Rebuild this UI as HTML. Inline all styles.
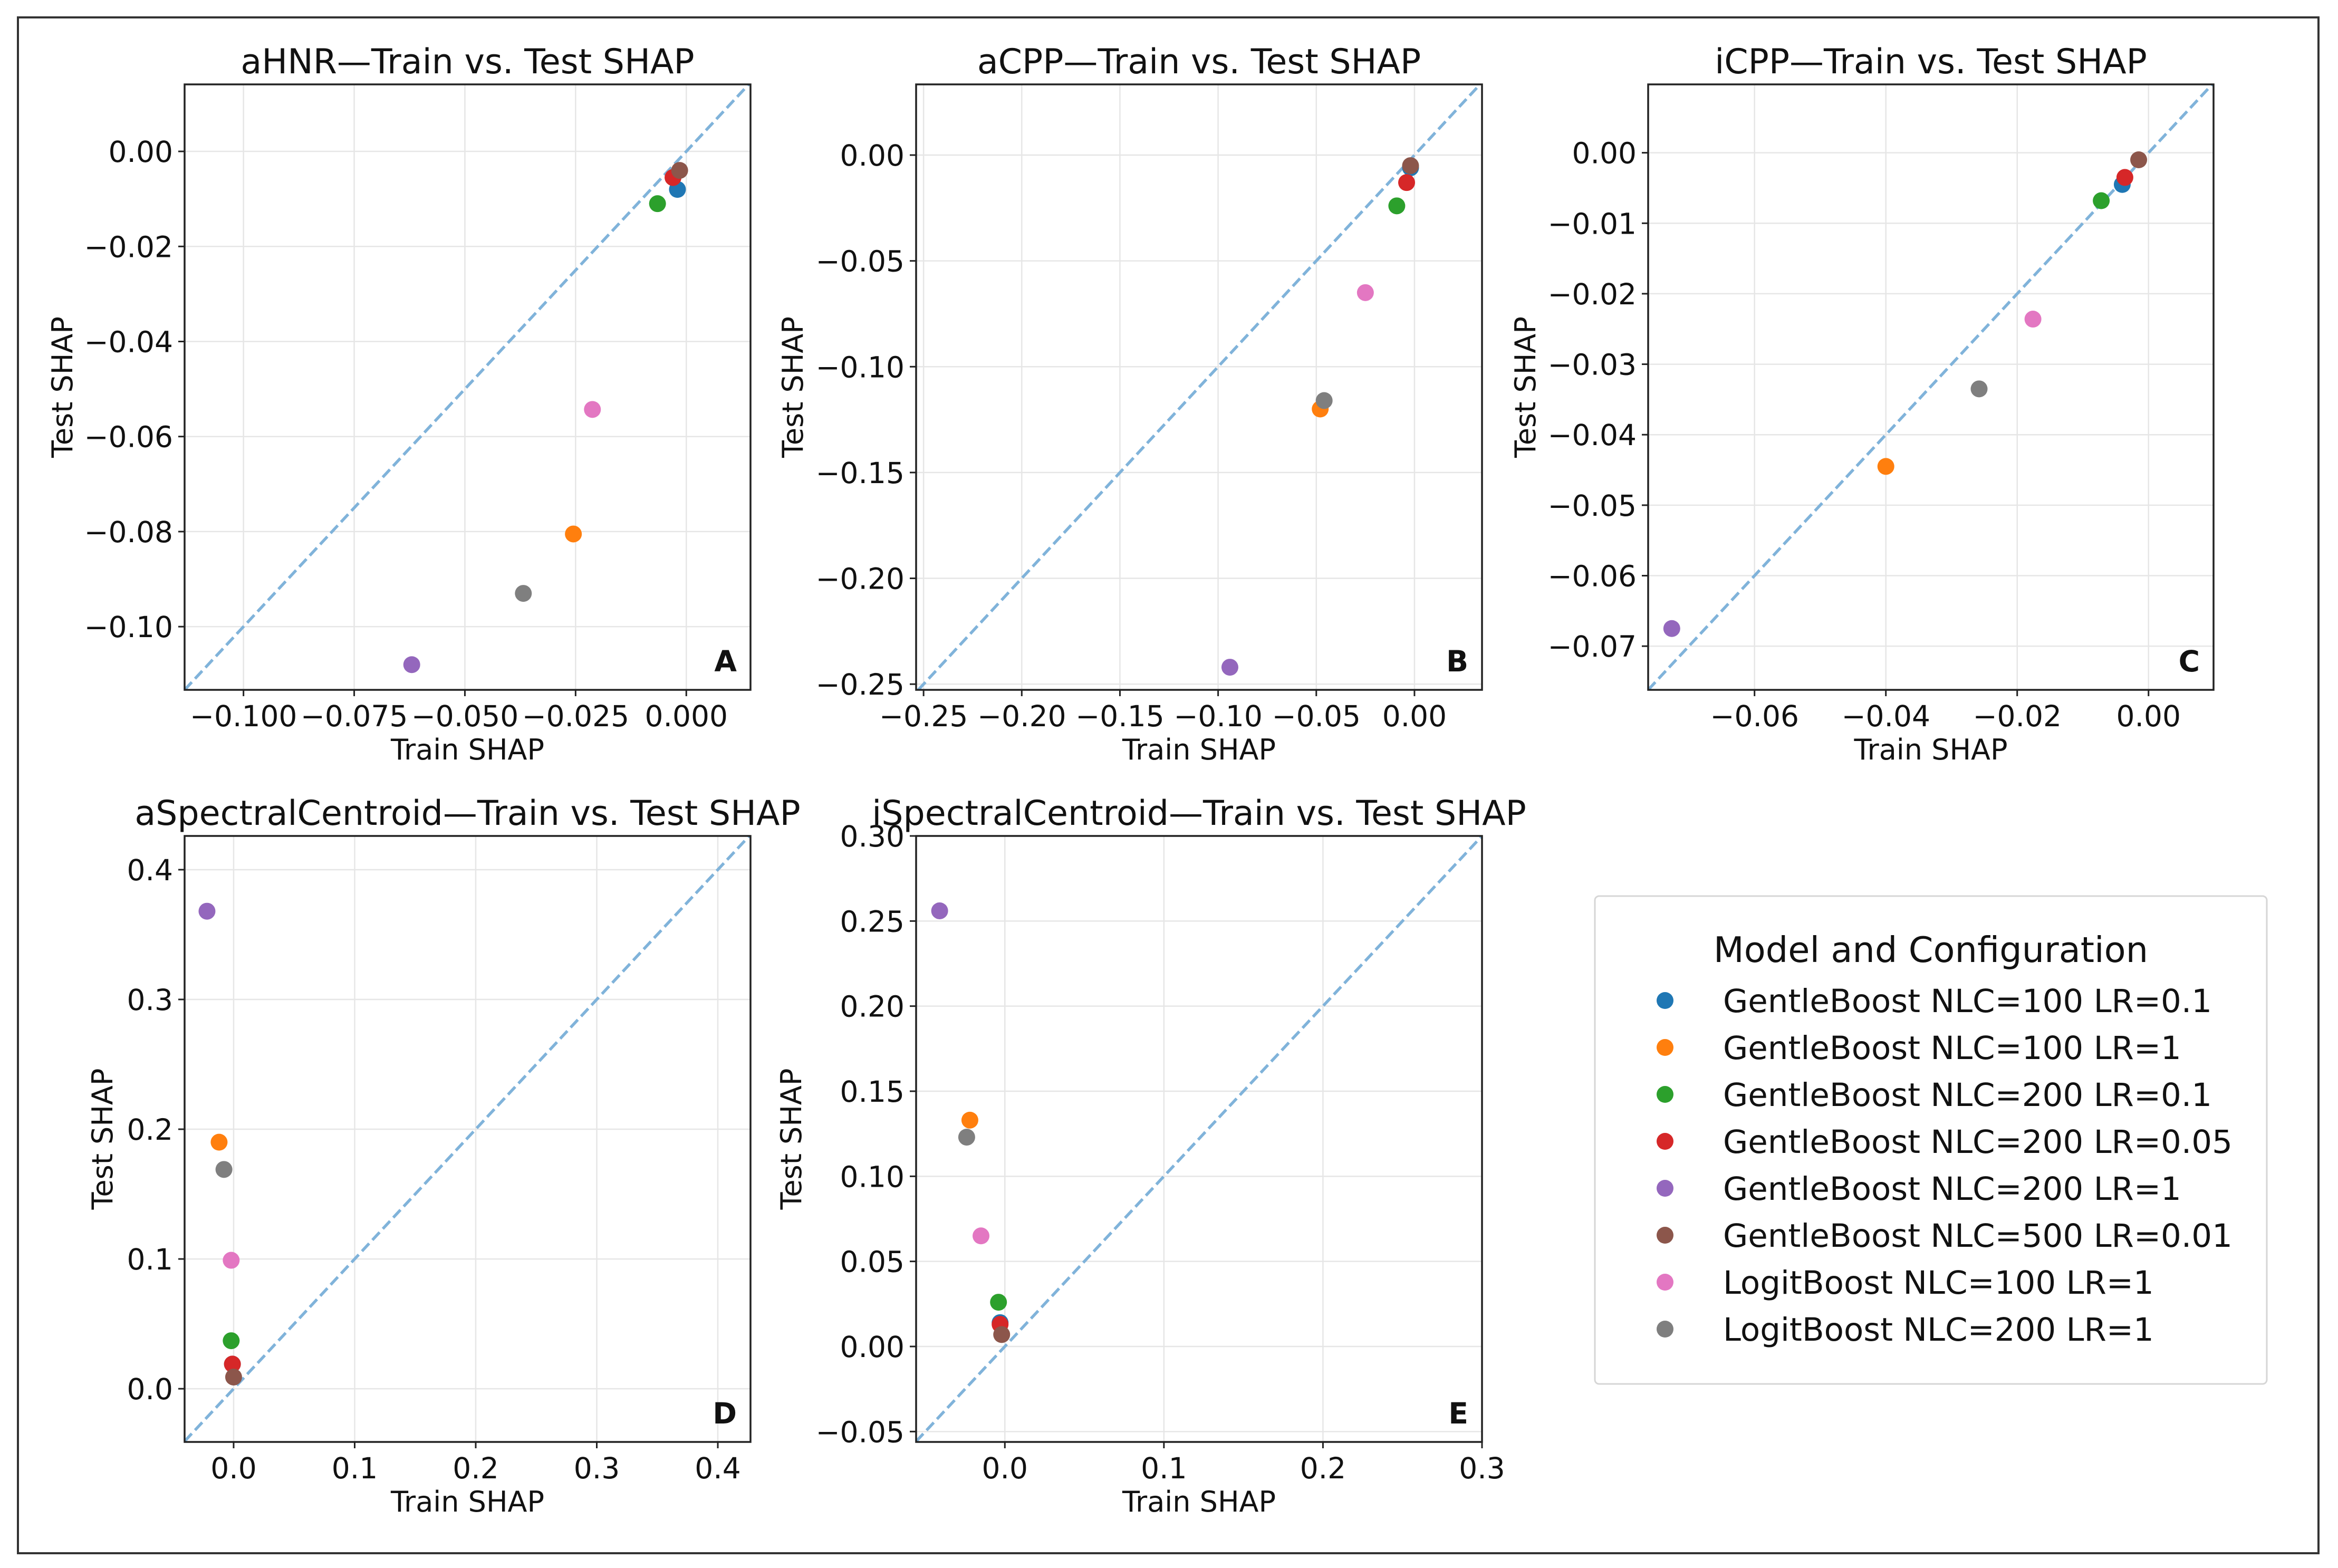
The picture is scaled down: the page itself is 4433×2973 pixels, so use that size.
<!DOCTYPE html>
<html><head><meta charset="utf-8"><style>
html,body{margin:0;padding:0;background:#fff}
svg{display:block;font-family:"DejaVu Sans","Liberation Sans",sans-serif}
</style></head><body>
<svg id="fig" width="4433" height="2973" viewBox="0 0 4433 2973" xmlns="http://www.w3.org/2000/svg">
<rect x="0" y="0" width="4433" height="2973" fill="#fff"/>
<rect x="34" y="33" width="4362" height="2912" fill="none" stroke="#333" stroke-width="4"/>
<g id="panels"></g>
<g id="legend"></g>
</svg>
<script>
const seriesNames = ["GentleBoost NLC=100 LR=0.1","GentleBoost NLC=100 LR=1","GentleBoost NLC=200 LR=0.1","GentleBoost NLC=200 LR=0.05","GentleBoost NLC=200 LR=1","GentleBoost NLC=500 LR=0.01","LogitBoost NLC=100 LR=1","LogitBoost NLC=200 LR=1"];
const seriesColors = ["#1f77b4","#ff7f0e","#2ca02c","#d62728","#9467bd","#8c564b","#e377c2","#7f7f7f"];
// Panel A (aHNR)
const aTrain = [-0.002,-0.0255,-0.0065,-0.003,-0.062,-0.0015,-0.0212,-0.0368];
const aTest  = [-0.008,-0.0805,-0.011,-0.0055,-0.108,-0.004,-0.0543,-0.093];
const aTicks = [-0.100,-0.075,-0.050,-0.025,0.000];
const aYTicks = [0.00,-0.02,-0.04,-0.06,-0.08,-0.10];
// Panel B (aCPP)
const bTrain = [-0.002,-0.048,-0.009,-0.004,-0.094,-0.002,-0.025,-0.046];
const bTest  = [-0.006,-0.120,-0.024,-0.013,-0.242,-0.005,-0.065,-0.116];
const bTicks = [-0.25,-0.20,-0.15,-0.10,-0.05,0.00];
const bYTicks = [0.00,-0.05,-0.10,-0.15,-0.20,-0.25];
// Panel C (iCPP)
const cTrain = [-0.004,-0.040,-0.0072,-0.0036,-0.0726,-0.0015,-0.0176,-0.0258];
const cTest  = [-0.0045,-0.0445,-0.0068,-0.0035,-0.0675,-0.001,-0.0236,-0.0335];
const cTicks = [-0.06,-0.04,-0.02,0.00];
const cYTicks = [0.00,-0.01,-0.02,-0.03,-0.04,-0.05,-0.06,-0.07];
// Panel D (aSpectralCentroid)
const dTrain = [-0.001,-0.012,-0.002,-0.001,-0.022,0.0,-0.002,-0.008];
const dTest  = [0.019,0.190,0.037,0.019,0.368,0.009,0.099,0.169];
const dTicks = [0.0,0.1,0.2,0.3,0.4];
const dYTicks = [0.0,0.1,0.2,0.3,0.4];
// Panel E (iSpectralCentroid)
const eTrain = [-0.003,-0.022,-0.004,-0.003,-0.041,-0.002,-0.015,-0.024];
const eTest  = [0.014,0.133,0.026,0.013,0.256,0.007,0.065,0.123];
const eTicks = [0.0,0.1,0.2,0.3];
const eYTicks = [-0.05,0.00,0.05,0.10,0.15,0.20,0.25,0.30];

const NS="http://www.w3.org/2000/svg";
function mk(tag,attrs,parent){const e=document.createElementNS(NS,tag);for(const k in attrs)e.setAttribute(k,attrs[k]);parent.appendChild(e);return e;}
function fmt(v,d){const s=Math.abs(v).toFixed(d);return (v<0&&Number(s)!==0?"\u2212":"")+s;}

const panels=[
 {id:"a",title:"aHNR\u2014Train vs. Test SHAP",letter:"A",L:350,R:1423,T:160,B:1308,xr:[-0.1133,0.0145],yr:[-0.1133,0.0141],xs:aTrain,ys:aTest,xt:aTicks,yt:aYTicks,xd:3,yd:2,yo:231},
 {id:"b",title:"aCPP\u2014Train vs. Test SHAP",letter:"B",L:1737,R:2810,T:160,B:1308,xr:[-0.2538,0.0344],yr:[-0.2527,0.0334],xs:bTrain,ys:bTest,xt:bTicks,yt:bYTicks,xd:2,yd:2,yo:233},
 {id:"c",title:"iCPP\u2014Train vs. Test SHAP",letter:"C",L:3125,R:4197,T:160,B:1308,xr:[-0.0762,0.0099],yr:[-0.0762,0.0097],xs:cTrain,ys:cTest,xt:cTicks,yt:cYTicks,xd:2,yd:2,yo:232},
 {id:"d",title:"aSpectralCentroid\u2014Train vs. Test SHAP",letter:"D",L:350,R:1423,T:1585,B:2734,xr:[-0.0405,0.427],yr:[-0.041,0.426],xs:dTrain,ys:dTest,xt:dTicks,yt:dYTicks,xd:1,yd:1,yo:155},
 {id:"e",title:"iSpectralCentroid\u2014Train vs. Test SHAP",letter:"E",L:1737,R:2810,T:1585,B:2734,xr:[-0.0558,0.3],yr:[-0.0561,0.3],xs:eTrain,ys:eTest,xt:eTicks,yt:eYTicks,xd:1,yd:2,yo:236}
];
const root=document.getElementById("panels");
panels.forEach(p=>{
 const g=mk("g",{},root);
 
 
 const X=v=>p.L+(v-p.xr[0])/(p.xr[1]-p.xr[0])*(p.R-p.L);
 const Y=v=>p.B-(v-p.yr[0])/(p.yr[1]-p.yr[0])*(p.B-p.T);
 p.xt.forEach(t=>{const l=mk("line",{x1:X(t),x2:X(t),y1:p.T,y2:p.B,stroke:"#e6e6e6","stroke-width":2.5},g);});
 p.yt.forEach(t=>{const l=mk("line",{x1:p.L,x2:p.R,y1:Y(t),y2:Y(t),stroke:"#e6e6e6","stroke-width":2.5},g);});
 const lo=Math.max(p.xr[0],p.yr[0]),hi=Math.min(p.xr[1],p.yr[1]);
 const dl=mk("line",{x1:X(lo),y1:Y(lo),x2:X(hi),y2:Y(hi),stroke:"#80b3da","stroke-width":5.5,"stroke-dasharray":"20 9"},g);
 
 
 p.xs.forEach((v,i)=>{
  const c=mk("circle",{cx:X(v),cy:Y(p.ys[i]),r:16,fill:seriesColors[i]},g);
  
  
 });
 const fr=mk("rect",{x:p.L,y:p.T,width:p.R-p.L,height:p.B-p.T,fill:"none",stroke:"#222","stroke-width":3.5},g);
 
 
 p.xt.forEach(t=>{
  mk("line",{x1:X(t),x2:X(t),y1:p.B,y2:p.B+12,stroke:"#222","stroke-width":3},g);
  const tx=mk("text",{x:X(t),y:p.B+69,"font-size":55,"text-anchor":"middle",fill:"#111"},g);
  tx.textContent=fmt(t,p.xd);
  
  
 });
 p.yt.forEach(t=>{
  mk("line",{x1:p.L-12,x2:p.L,y1:Y(t),y2:Y(t),stroke:"#222","stroke-width":3},g);
  const tx=mk("text",{x:p.L-22,y:Y(t)+20,"font-size":55,"text-anchor":"end",fill:"#111"},g);
  tx.textContent=fmt(t,p.yd);
  
  
 });
 const ti=mk("text",{x:(p.L+p.R)/2,y:p.T-21,"font-size":65,"text-anchor":"middle",fill:"#111"},g);
 ti.textContent=p.title;
 
 
 const xl=mk("text",{x:(p.L+p.R)/2,y:p.B+132,"font-size":54,"text-anchor":"middle",fill:"#111"},g);
 xl.textContent="Train SHAP";
 
 
 const yx=p.L-p.yo+18, yy=(p.T+p.B)/2;
 const yl=mk("text",{x:yx,y:yy,"font-size":54,"text-anchor":"middle",fill:"#111",transform:"rotate(-90 "+yx+" "+yy+")"},g);
 yl.textContent="Test SHAP";
 
 
 const lt=mk("text",{x:p.R-26,y:p.B-35,"font-size":55,"font-weight":"bold","text-anchor":"end",fill:"#111"},g);
 lt.textContent=p.letter;
 
 
});
const lg=document.getElementById("legend");
const lb=mk("rect",{x:3024,y:1699,width:1274,height:925,rx:8,fill:"#fff",stroke:"#d6d6d6","stroke-width":3},lg);


const lti=mk("text",{x:3661,y:1824,"font-size":67,"text-anchor":"middle",fill:"#111"},lg);
lti.textContent="Model and Configuration";


seriesNames.forEach((n,i)=>{
 const y=1897+i*89;
 const c=mk("circle",{cx:3157,cy:y,r:16,fill:seriesColors[i]},lg);
 
 
 const t=mk("text",{x:3267,y:y+22,"font-size":61,fill:"#111"},lg);
 t.textContent=n;
 
 
});
</script>
</body></html>
